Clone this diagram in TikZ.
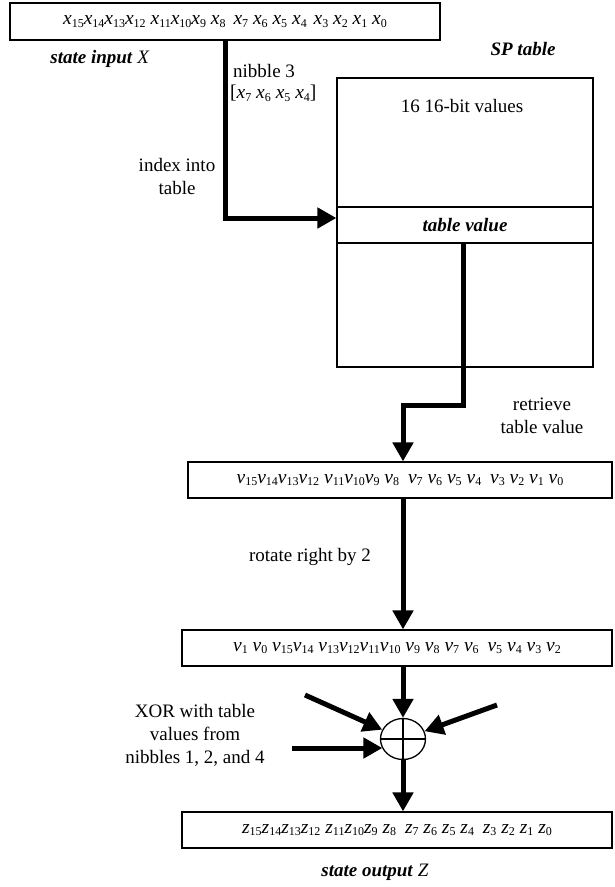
\documentclass[tikz,border=0pt]{standalone}
\usepackage{fontspec}
\setmainfont{Liberation Serif}
\usetikzlibrary{arrows.meta,shapes.geometric}
\newcommand\bv[2]{\textit{#1}\raisebox{-0.3ex}{\fontsize{12}{12}\selectfont #2}}
\newcommand\bi[1]{\textbf{\textit{#1}}}
\begin{document}
\begin{tikzpicture}[x=1pt,y=-1pt,
  boxline/.style={draw,line width=1.2pt,inner sep=0pt},
  bitrow/.style={boxline,font=\fontsize{19.5}{22}\selectfont},
  lbl/.style={font=\fontsize{19}{23}\selectfont,inner sep=0pt,align=center},
  flow/.style={line width=5pt,-{Triangle[length=19pt,width=20pt]}},
  feed/.style={line width=5pt}]
\useasboundingbox (0,0) rectangle (615,887);
% top state input
\node[bitrow,minimum width=430pt,minimum height=37pt] (xin) at (225,21.5)
  {\bv{x}{15}\bv{x}{14}\bv{x}{13}\bv{x}{12} \bv{x}{11}\bv{x}{10}\bv{x}{9} \bv{x}{8}\hspace{3pt} \bv{x}{7} \bv{x}{6} \bv{x}{5} \bv{x}{4}\hspace{2pt} \bv{x}{3} \bv{x}{2} \bv{x}{1} \bv{x}{0}};
\node[lbl] (sin) at (100,59) {\bi{state input} \textit{X}};
\node[lbl,anchor=west] (nib) at (233,71) {nibble 3};
\node[lbl,anchor=west,font=\fontsize{19.5}{22}\selectfont] (nibx) at (230,93) {[\bv{x}{7} \bv{x}{6} \bv{x}{5} \bv{x}{4}]};
% SP table
\node[lbl] (sptl) at (523,49) {\bi{SP table}};
\node[boxline,minimum width=256pt,minimum height=289pt] (tbl) at (465,222.5) {};
\node[lbl] (sixteen) at (462,106) {16 16-bit values};
\node[boxline,lbl,minimum width=256pt,minimum height=36pt] (tv) at (465,225) {\bi{table value}};
\node[lbl] (idx) at (177,176) {index into\\table};
\draw[flow] (xin.south) |- ([yshift=7pt]tv.west);
% retrieve
\node[lbl] (ret) at (542,416) {retrieve\\table value};
\node[bitrow,minimum width=424pt,minimum height=36pt] (vbox) at (400,480)
  {\bv{v}{15}\bv{v}{14}\bv{v}{13}\bv{v}{12} \bv{v}{11}\bv{v}{10}\bv{v}{9} \bv{v}{8}\hspace{4pt} \bv{v}{7} \bv{v}{6} \bv{v}{5} \bv{v}{4}\hspace{4pt} \bv{v}{3} \bv{v}{2} \bv{v}{1} \bv{v}{0}};
\node[lbl] (rot) at (310,557) {rotate right by 2};
\node[bitrow,minimum width=430pt,minimum height=36pt] (rbox) at (397,648)
  {\bv{v}{1} \bv{v}{0} \bv{v}{15}\bv{v}{14} \bv{v}{13}\bv{v}{12}\bv{v}{11}\bv{v}{10} \bv{v}{9} \bv{v}{8} \bv{v}{7} \bv{v}{6}\hspace{4pt} \bv{v}{5} \bv{v}{4} \bv{v}{3} \bv{v}{2}};
% xor
\node[draw,ellipse,line width=1.3pt,minimum width=45pt,minimum height=41pt,inner sep=0pt] (xor) at (403,739) {};
\draw[line width=1.3pt] (xor.north) -- (xor.south) (xor.west) -- (xor.east);
\node[lbl] (xorl) at (195,735) {XOR with table\\values from\\nibbles 1, 2, and 4};
\node[bitrow,minimum width=430pt,minimum height=36pt] (zbox) at (397,830)
  {\bv{z}{15}\bv{z}{14}\bv{z}{13}\bv{z}{12} \bv{z}{11}\bv{z}{10}\bv{z}{9} \bv{z}{8}\hspace{4pt} \bv{z}{7} \bv{z}{6} \bv{z}{5} \bv{z}{4}\hspace{4pt} \bv{z}{3} \bv{z}{2} \bv{z}{1} \bv{z}{0}};
\node[lbl] (sout) at (375,872) {\bi{state output} \textit{Z}};
% connectors
\draw[flow] (tv.south -| 463,0) -- (463,405) -| (vbox.north -| xor);
\draw[flow] (vbox.south -| xor) -- (rbox.north -| xor);
\draw[flow] (rbox.south -| xor) -- (xor);
\draw[flow] (xor) -- (zbox.north -| xor);
\coordinate (in1) at (305,695);
\coordinate (in2) at (497,705);
\coordinate (in3) at (292,748);
\draw[flow] (in1) -- (xor);
\draw[flow] (in2) -- (xor);
\draw[flow] (in3) -- (in3 -| xor.205);
\end{tikzpicture}
\end{document}
